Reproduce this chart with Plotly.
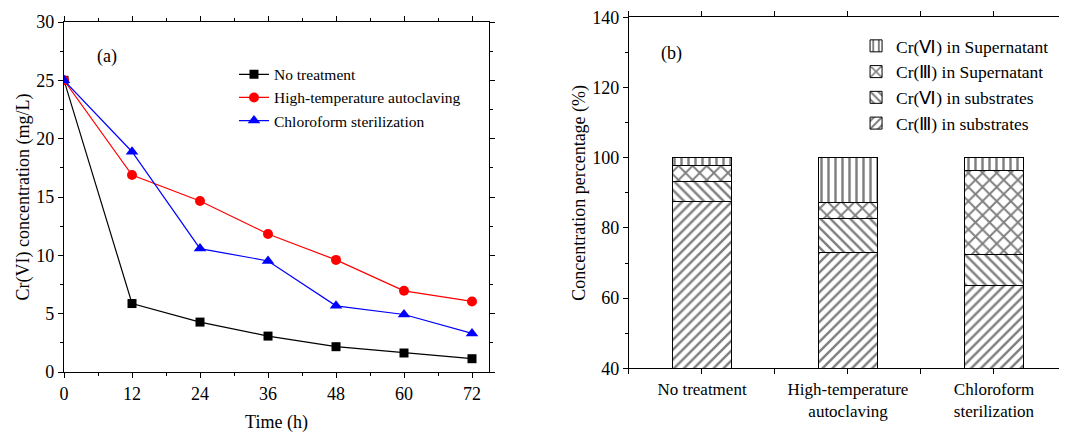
import plotly.graph_objects as go

# ---------------- data ----------------
time_h = [0, 12, 24, 36, 48, 60, 72]
no_treatment = [25.0, 5.87, 4.28, 3.08, 2.17, 1.63, 1.14]
autoclaving = [25.0, 16.88, 14.66, 11.83, 9.61, 6.96, 6.05]
chloroform = [25.0, 18.88, 10.58, 9.52, 5.67, 4.93, 3.31]

bar_categories = ["No treatment", "High-temperature<br>autoclaving", "Chloroform<br>sterilization"]
cr3_substrates = [87.6, 73.1, 63.6]
cr6_substrates = [5.7, 9.6, 8.9]
cr3_supernatant = [4.5, 4.6, 24.0]
cr6_supernatant = [2.2, 12.7, 3.5]

x_ticks = [0, 12, 24, 36, 48, 60, 72]
y1_ticks = [0, 5, 10, 15, 20, 25, 30]
y2_ticks = [40, 60, 80, 100, 120, 140]

FONT = "Liberation Serif, Times New Roman, serif"

fig = go.Figure()

# ---------------- panel (a) ----------------
line_series = [
    ("No treatment", no_treatment, "black", "square", 9),
    ("High-temperature autoclaving", autoclaving, "red", "circle", 10),
    ("Chloroform sterilization", chloroform, "blue", "triangle-up", 11),
]
for name, vals, col, sym, sz in line_series:
    fig.add_trace(go.Scatter(
        x=time_h, y=vals, mode="lines+markers", name=name,
        line=dict(color=col, width=1.2),
        marker=dict(symbol=sym, size=sz, color=col),
        xaxis="x", yaxis="y", legend="legend",
    ))

# ---------------- panel (b) ----------------
bar_series = [
    ("Cr(Ⅲ) in substrates", cr3_substrates, "/", 7),
    ("Cr(Ⅵ) in substrates", cr6_substrates, "\\", 7),
    ("Cr(Ⅲ) in Supernatant", cr3_supernatant, "x", 10),
    ("Cr(Ⅵ) in Supernatant", cr6_supernatant, "|", 7),
]
bar_x = list(range(len(bar_categories)))
for name, vals, shape, size in bar_series:
    fig.add_trace(go.Bar(
        x=bar_x, y=vals, name=name, width=0.4,
        marker=dict(
            color="white",
            line=dict(color="black", width=1),
            pattern=dict(shape=shape, fgcolor="black", bgcolor="white",
                         size=size, solidity=0.35),
        ),
        xaxis="x2", yaxis="y2", legend="legend2",
    ))

axis_common = dict(
    showline=True, linecolor="black", linewidth=1.2, mirror="ticks",
    ticks="outside", ticklen=5, tickcolor="black", tickwidth=1,
    showgrid=False, zeroline=False, automargin=False,
    ticklabeloverflow="allow",
    tickfont=dict(family=FONT, size=18, color="black"),
)

fig.update_layout(
    width=1059, height=425,
    margin=dict(l=0, r=0, t=0, b=0),
    paper_bgcolor="white", plot_bgcolor="white",
    font=dict(family=FONT, color="black"),
    barmode="stack",
    xaxis=dict(
        domain=[0.0529, 0.4542], anchor="y", range=[0, 75],
        tickvals=x_ticks,
        minor=dict(dtick=6, tick0=0, ticks="outside", ticklen=3, tickcolor="black"),
        title=dict(text="Time (h)", font=dict(family=FONT, size=18), standoff=18),
        **axis_common,
    ),
    yaxis=dict(
        domain=[0.1435, 0.967], anchor="x", range=[0, 30],
        tickvals=y1_ticks,
        minor=dict(dtick=2.5, tick0=0, ticks="outside", ticklen=3, tickcolor="black"),
        title=dict(text="Cr(VI) concentration (mg/L)", font=dict(family=FONT, size=18), standoff=2),
        **axis_common,
    ),
    xaxis2=dict(
        domain=[0.5864, 1.0], anchor="y2", range=[-0.5, 2.5],
        tickvals=bar_x, ticktext=bar_categories,
        minor=dict(dtick=0.5, tick0=0, ticks="outside", ticklen=5, tickcolor="black"),
        **{**axis_common, "tickfont": dict(family=FONT, size=17, color="black")},
    ),
    yaxis2=dict(
        domain=[0.1522, 0.978], anchor="x2", range=[40, 140],
        tickvals=y2_ticks,
        minor=dict(dtick=10, tick0=0, ticks="outside", ticklen=3, tickcolor="black"),
        title=dict(text="Concentration percentage (%)", font=dict(family=FONT, size=18), standoff=1),
        **axis_common,
    ),
    legend=dict(
        x=0.2134, y=0.883, xanchor="left", yanchor="top",
        bgcolor="rgba(0,0,0,0)", borderwidth=0,
        font=dict(family=FONT, size=15.5, color="black"),
        traceorder="normal", tracegroupgap=0,
    ),
    legend2=dict(
        x=0.8008, y=0.953, xanchor="left", yanchor="top",
        bgcolor="rgba(0,0,0,0)", borderwidth=0,
        font=dict(family=FONT, size=17.5, color="black"),
        traceorder="reversed", tracegroupgap=0,
    ),
    annotations=[
        dict(text="(a)", x=0.0822, y=0.885, xref="paper", yref="paper",
             xanchor="left", yanchor="middle", showarrow=False,
             font=dict(family=FONT, size=18, color="black")),
        dict(text="(b)", x=0.6147, y=0.894, xref="paper", yref="paper",
             xanchor="left", yanchor="middle", showarrow=False,
             font=dict(family=FONT, size=18, color="black")),
    ],
)

fig.write_html("out.html")
